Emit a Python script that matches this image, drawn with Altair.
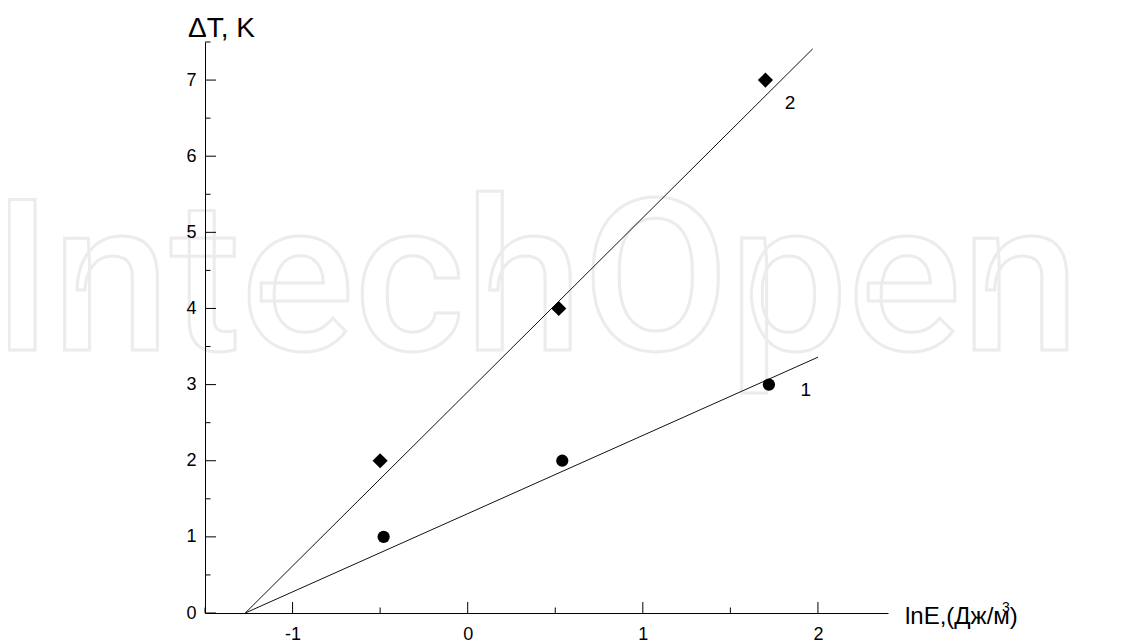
import altair as alt
import pandas as pd

# ---- data ----
s1_x = [-0.48, 0.54, 1.72]
s1_y = [1, 2, 3]
s2_x = [-0.50, 0.52, 1.70]
s2_y = [2, 4, 7]

fit1_x = [-1.27, 2.00]
fit1_y = [0.0, 3.36]
fit2_x = [-1.27, 1.97]
fit2_y = [0.0, 7.41]

label_text = ["1", "2"]
label_x = [1.93, 1.84]
label_y = [2.93, 6.70]

x_major = [-1, 0, 1, 2]
x_minor = [-1.5, -0.5, 0.5, 1.5]
y_major = [0, 1, 2, 3, 4, 5, 6, 7]
y_minor = [0.5, 1.5, 2.5, 3.5, 4.5, 5.5, 6.5, 7.5]

x_title = "lnE,(Дж/м)"
x_title_sup = "3"
y_title = "ΔT, K"
watermark = "IntechOpen"

# ---- tables ----
pts = pd.DataFrame({
    "x": s1_x + s2_x,
    "y": s1_y + s2_y,
    "series": ["1"] * len(s1_x) + ["2"] * len(s2_x),
})
fits = pd.DataFrame({
    "x": fit1_x + fit2_x,
    "y": fit1_y + fit2_y,
    "series": ["1"] * len(fit1_x) + ["2"] * len(fit2_x),
})
labels = pd.DataFrame({"x": label_x, "y": label_y, "t": label_text})

W, H = 683, 571
FONT = "Liberation Sans"

xs = alt.Scale(domain=[-1.5, 2.4], nice=False, zero=False)
ys = alt.Scale(domain=[0, 7.5], nice=False, zero=False)

x_axis = alt.Axis(values=x_major, ticks=False, grid=False, domainColor="black",
                  domainWidth=1, labelFont=FONT, labelFontSize=18, labelColor="black",
                  labelPadding=12, title=None, labelExpr="'' + datum.value",
                  labelFlush=False, zindex=1)
y_axis = alt.Axis(values=y_major, ticks=False, grid=False, domainColor="black",
                  domainWidth=1, labelFont=FONT, labelFontSize=18, labelColor="black",
                  labelPadding=9, title=None, labelExpr="'' + datum.value",
                  labelFlush=False, zindex=1)

X = lambda f: alt.X(f, type="quantitative", scale=xs, axis=x_axis)
Y = lambda f: alt.Y(f, type="quantitative", scale=ys, axis=y_axis)

wm = alt.Chart(pd.DataFrame({"t": [watermark]})).mark_text(
    font="Roboto", fontSize=212, fontWeight=500, align="left", baseline="alphabetic",
    fill="white", fillOpacity=0, stroke="#ececec", strokeWidth=3
).encode(x=alt.value(-213), y=alt.value(308), text="t:N")

lines = alt.Chart(fits).mark_line(color="#111111", strokeWidth=1).encode(
    x=X("x"), y=Y("y"), detail="series:N",
)

points = alt.Chart(pts).mark_point(filled=True, color="black", opacity=1).encode(
    x=X("x"), y=Y("y"),
    shape=alt.Shape("series:N", scale=alt.Scale(domain=["1", "2"], range=["circle", "diamond"]), legend=None),
    size=alt.Size("series:N", scale=alt.Scale(domain=["1", "2"], range=[150, 230]), legend=None),
)

xmaj = alt.Chart(pd.DataFrame({"v": x_major})).mark_rule(color="black", strokeWidth=1).encode(
    x=X("v"), y=alt.value(H), y2=alt.value(H - 11))
xmin = alt.Chart(pd.DataFrame({"v": x_minor})).mark_rule(color="black", strokeWidth=1).encode(
    x=X("v"), y=alt.value(H), y2=alt.value(H - 5.5))
ymaj = alt.Chart(pd.DataFrame({"v": y_major})).mark_rule(color="black", strokeWidth=1).encode(
    y=Y("v"), x=alt.value(0), x2=alt.value(11))
ymin = alt.Chart(pd.DataFrame({"v": y_minor})).mark_rule(color="black", strokeWidth=1).encode(
    y=Y("v"), x=alt.value(0), x2=alt.value(5.5))

lab = alt.Chart(labels).mark_text(font=FONT, fontSize=19, color="black").encode(
    x=X("x"), y=Y("y"), text="t:N")

ytit = alt.Chart(pd.DataFrame({"t": [y_title]})).mark_text(
    font=FONT, fontSize=28, align="left", baseline="alphabetic", color="black"
).encode(x=alt.value(-17), y=alt.value(-5), text="t:N")
xtit = alt.Chart(pd.DataFrame({"t": [x_title]})).mark_text(
    font=FONT, fontSize=24, align="left", baseline="alphabetic", color="black"
).encode(x=alt.value(700), y=alt.value(H + 11), text="t:N")
xsup = alt.Chart(pd.DataFrame({"t": [x_title_sup]})).mark_text(
    font=FONT, fontSize=14, align="left", baseline="alphabetic", color="black"
).encode(x=alt.value(797), y=alt.value(H - 1), text="t:N")

chart = alt.layer(wm, lines, points, xmaj, xmin, ymaj, ymin, lab, ytit, xtit, xsup).properties(
    width=W, height=H,
    autosize=alt.AutoSizeParams(type="none"),
    padding={"left": 197, "top": 34, "right": 247, "bottom": 29},
).configure(background="white").configure_view(stroke=None)

chart.save("out.html", embed_options={"renderer": "svg", "actions": False})
